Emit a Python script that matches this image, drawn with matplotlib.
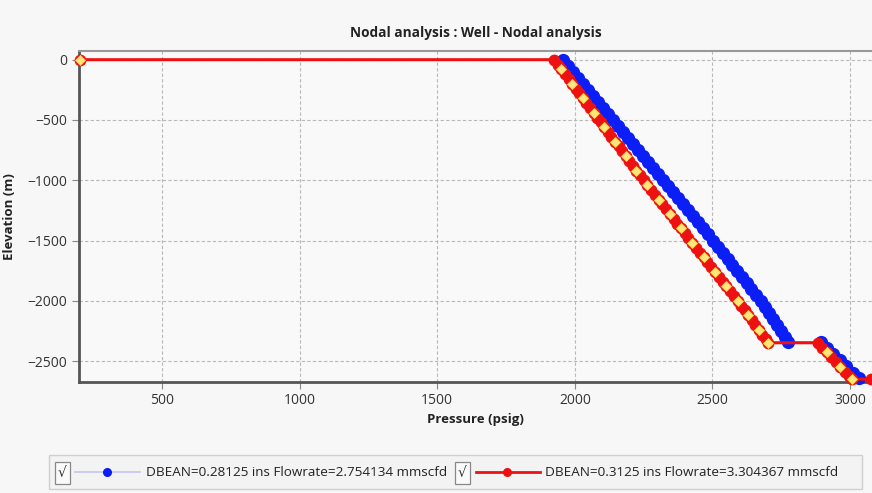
import matplotlib
matplotlib.use("Agg")
import matplotlib.pyplot as plt
from matplotlib.lines import Line2D
from matplotlib.patches import Rectangle

# ---- data ----
# DBEAN=0.28125 (blue)
blue_p = [1957, 1975, 1994, 2012, 2030, 2048, 2067, 2085, 2103, 2121,
          2140, 2158, 2176, 2194, 2212, 2230, 2248, 2266, 2284, 2302,
          2320, 2338, 2356, 2375, 2393, 2411, 2429, 2447, 2466, 2484,
          2502, 2520, 2537, 2555, 2572, 2590, 2607, 2625, 2642, 2660,
          2677, 2692, 2706, 2720, 2734, 2748, 2763, 2775,
          2893, 2917, 2940, 2964, 2987, 3011, 3033]
blue_e = [0, -50, -100, -150, -200, -250, -300, -350, -400, -450,
          -500, -550, -600, -650, -700, -750, -800, -850, -900, -950,
          -1000, -1050, -1100, -1150, -1200, -1250, -1300, -1350, -1400, -1450,
          -1500, -1550, -1600, -1650, -1700, -1750, -1800, -1850, -1900, -1950,
          -2000, -2050, -2100, -2150, -2200, -2250, -2300, -2340,
          -2345, -2395, -2445, -2495, -2545, -2595, -2640]

# DBEAN=0.3125 (red)
red_p = [200, 1925, 1938, 1951, 1964, 1977, 1990, 2003, 2016, 2029, 2042,
         2055, 2068, 2081, 2094, 2107, 2120, 2133, 2146, 2159, 2172,
         2185, 2198, 2211, 2224, 2237, 2250, 2264, 2277, 2291, 2305,
         2318, 2332, 2346, 2359, 2373, 2386, 2400, 2413, 2427, 2441,
         2454, 2468, 2482, 2496, 2509, 2523, 2537, 2551, 2564, 2578,
         2592, 2605, 2617, 2630, 2643, 2655, 2668, 2680, 2693, 2702,
         2884, 2900, 2916, 2932, 2948, 2965, 2981, 2997, 3006, 3075]
red_e = [0, 0, -40, -80, -120, -160, -200, -240, -280, -320, -360,
         -400, -440, -480, -520, -560, -600, -640, -680, -720, -760,
         -800, -840, -880, -920, -960, -1000, -1040, -1080, -1120, -1160,
         -1200, -1240, -1280, -1320, -1360, -1400, -1440, -1480, -1520, -1560,
         -1600, -1640, -1680, -1720, -1760, -1800, -1840, -1880, -1920, -1960,
         -2000, -2040, -2080, -2120, -2160, -2200, -2240, -2280, -2320, -2348,
         -2348, -2388, -2428, -2468, -2508, -2548, -2588, -2628, -2650, -2650]

labels = ["DBEAN=0.28125 ins Flowrate=2.754134 mmscfd",
          "DBEAN=0.3125 ins Flowrate=3.304367 mmscfd"]

xticks = [500, 1000, 1500, 2000, 2500, 3000]
yticks = [0, -500, -1000, -1500, -2000, -2500]

BLUE = '#0a1ef5'
LAVENDER = '#c8c8f0'
RED = '#ee1111'
YELLOW = '#ffe680'
TXT = '#333333'
BG = '#f7f7f7'

plt.rcParams['font.family'] = ['Open Sans', 'DejaVu Sans']

fig = plt.figure(figsize=(8.72, 4.93), dpi=100, facecolor=BG)
ax = fig.add_axes([0.0906, 0.2258, 0.9094, 0.6707])
ax.set_facecolor('#f9f9f9')

ax.plot(blue_p, blue_e, color=LAVENDER, lw=1.2, marker='o', ms=8.5,
        mfc=BLUE, mec=BLUE, zorder=3, clip_on=False)
ax.plot(red_p, red_e, color=RED, lw=2.2, marker='o', ms=7.5,
        mfc=RED, mec=RED, zorder=4, clip_on=False)
ax.plot(red_p, red_e, ls='none', marker='D', ms=5, mfc=YELLOW,
        mec='#ffcf40', mew=0.6, markevery=3, zorder=5, clip_on=False)

ax.set_xlim(198, 3080)
ax.set_ylim(-2671, 72)
ax.set_xticks(xticks)
ax.set_yticks(yticks)
ax.tick_params(colors='#888888', labelcolor=TXT, labelsize=10, length=5, width=0.8)
ax.grid(True, ls=(0, (3, 2)), color='#b8b8b8', lw=0.8)
ax.set_axisbelow(True)

for s in ['left', 'bottom']:
    ax.spines[s].set_color('#555555')
    ax.spines[s].set_linewidth(2)
ax.spines['top'].set_color('#999999')
ax.spines['top'].set_linewidth(1.5)
ax.spines['right'].set_visible(False)

ax.set_title("Nodal analysis : Well - Nodal analysis", fontsize=9.8, fontweight='bold',
             color='#222222', pad=10)
ax.set_xlabel("Pressure (psig)", fontsize=9.5, fontweight='bold', color='#222222', labelpad=3)
ax.set_ylabel("Elevation (m)", fontsize=9.5, fontweight='bold', color='#222222', labelpad=8)

# ---- bottom legend bar (pixel coords, top-down) ----
W, H = 872, 493
def fx(x): return x / W
def fy(y): return 1 - y / H

fig.patches.append(Rectangle((fx(49), fy(489)), fx(862) - fx(49), fy(455) - fy(489),
                             transform=fig.transFigure, fc='#f3f3f3', ec='#cfcfcf', lw=1))
for cx in [55, 455]:
    fig.patches.append(Rectangle((fx(cx), fy(484)), fx(15), fy(462) - fy(484),
                                 transform=fig.transFigure, fc='#fafafa', ec='#888888', lw=0.9))
    fig.text(fx(cx + 7.5), fy(473), "√", ha='center', va='center', fontsize=10,
             color='#333333', family=['DejaVu Sans'])

fig.add_artist(Line2D([fx(75), fx(140)], [fy(472), fy(472)], color=LAVENDER, lw=1.3,
                      transform=fig.transFigure))
fig.add_artist(Line2D([fx(107)], [fy(472)], marker='o', ms=5.5, color=BLUE,
                      transform=fig.transFigure))
fig.add_artist(Line2D([fx(476), fx(540)], [fy(472), fy(472)], color=RED, lw=2,
                      transform=fig.transFigure))
fig.add_artist(Line2D([fx(507)], [fy(472)], marker='o', ms=5.5, color=RED,
                      transform=fig.transFigure))
fig.text(fx(146), fy(472), labels[0], ha='left', va='center', fontsize=9.7, color='#222222')
fig.text(fx(545), fy(472), labels[1], ha='left', va='center', fontsize=9.7, color='#222222')

fig.savefig("out.png", dpi=100, facecolor=BG)
